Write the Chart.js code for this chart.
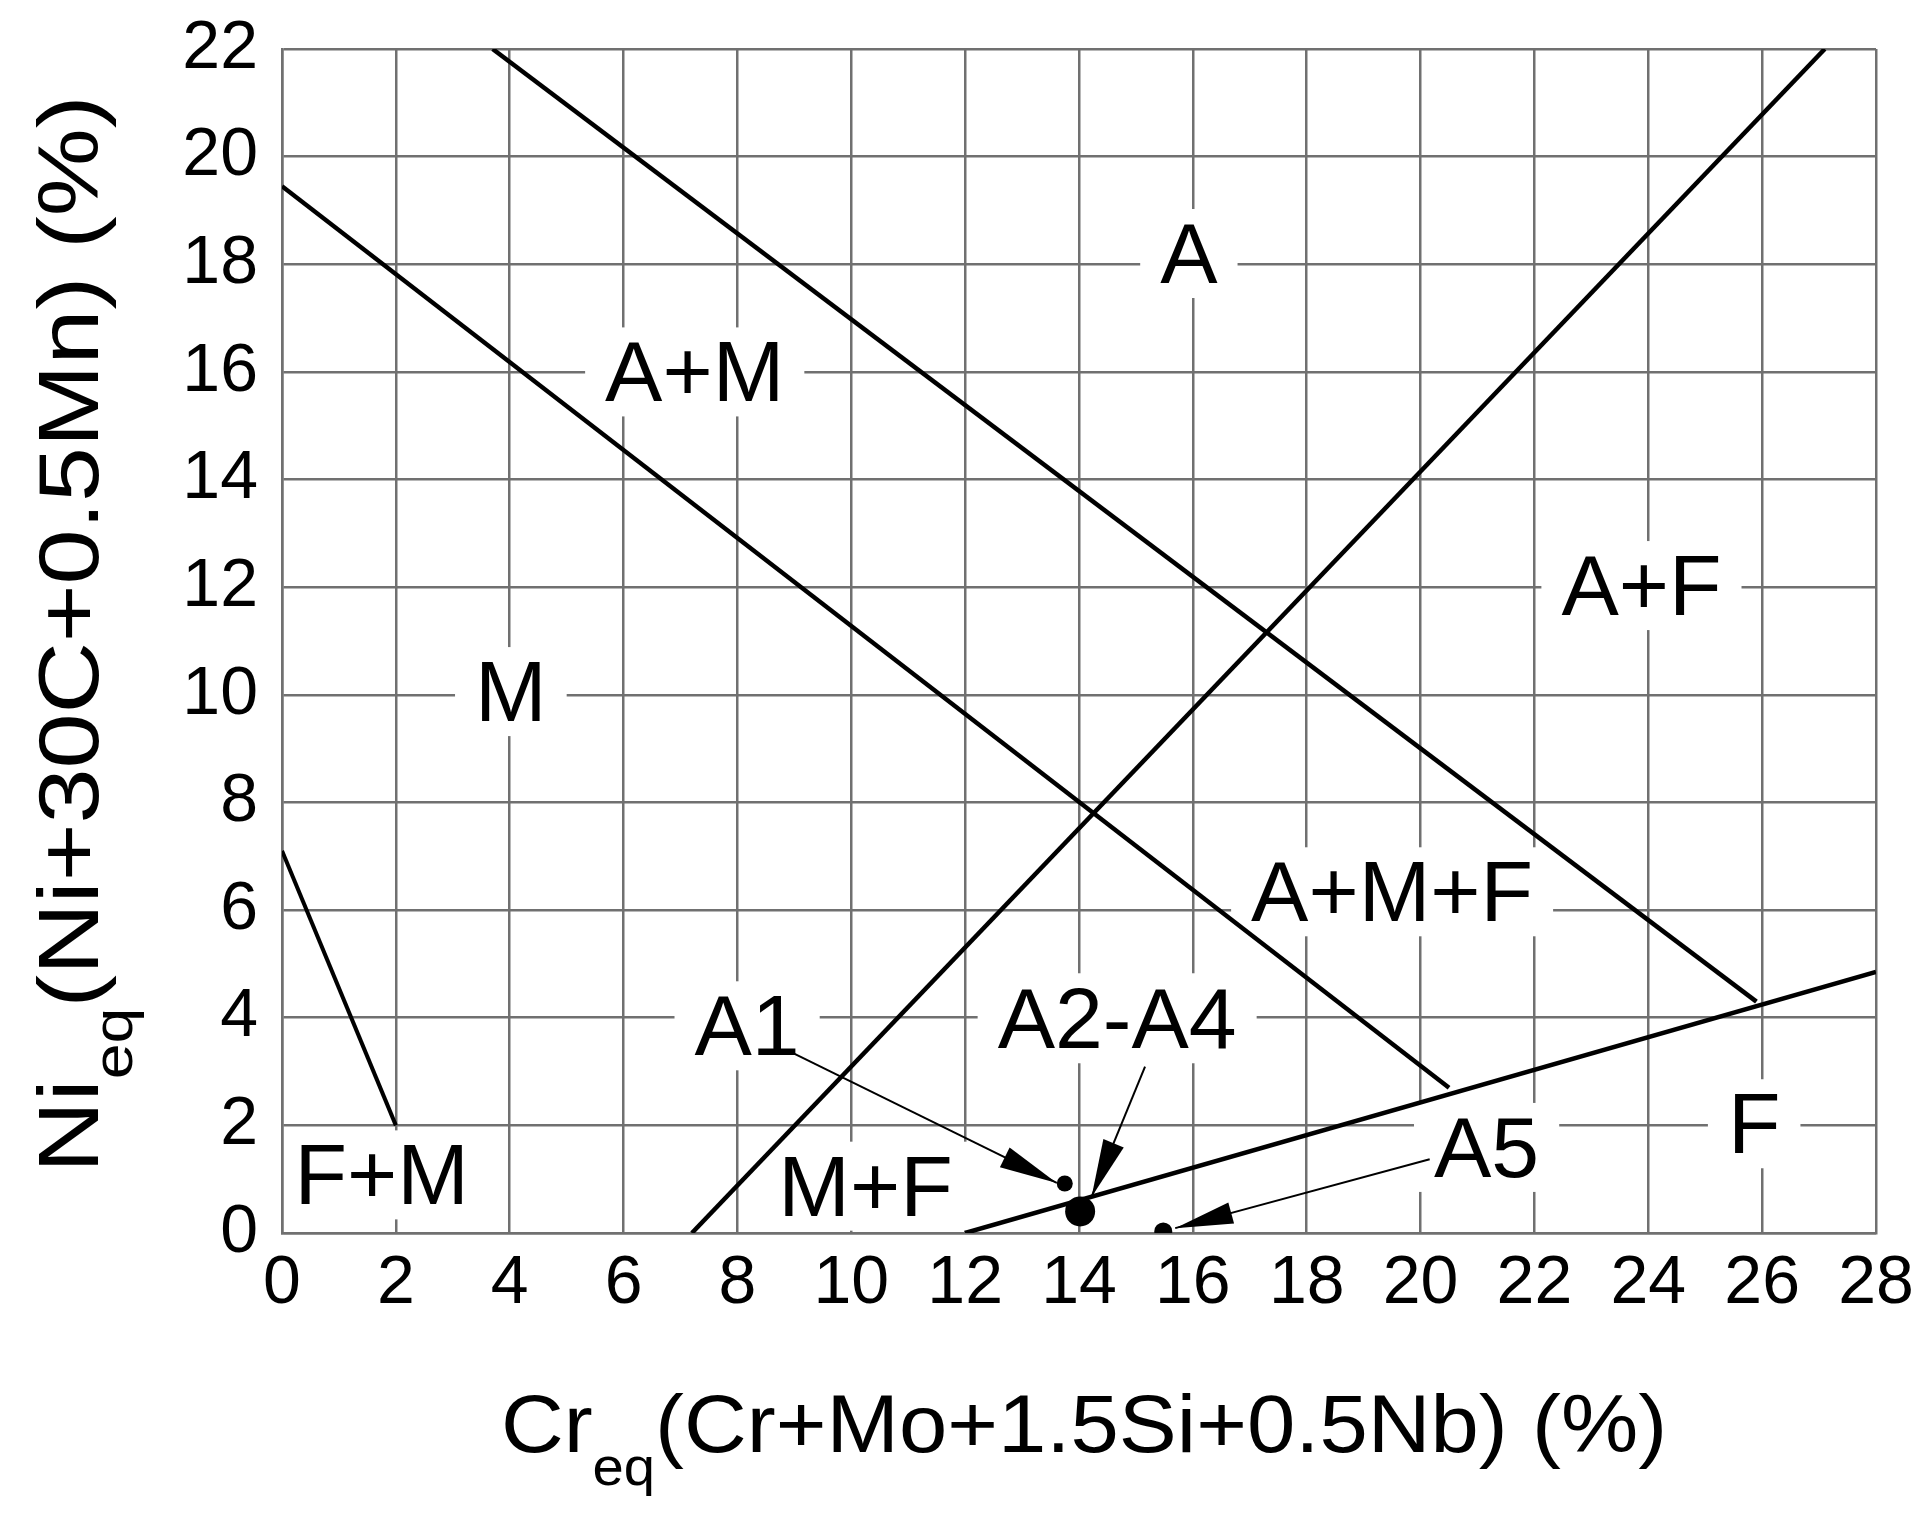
<!DOCTYPE html>
<html>
<head>
<meta charset="utf-8">
<script src="https://cdn.jsdelivr.net/npm/chart.js@4.4.1/dist/chart.umd.min.js"></script>
<style>
  html, body { margin: 0; padding: 0; background: #fff; }
  canvas { display: block; }
</style>
</head>
<body>
<canvas id="myChart" width="1931" height="1528"></canvas>
<script>
// Ejes
const xTicks = [0, 2, 4, 6, 8, 10, 12, 14, 16, 18, 20, 22, 24, 26, 28];
const yTicks = [0, 2, 4, 6, 8, 10, 12, 14, 16, 18, 20, 22];

// Líneas del diagrama (extremos)
const aLineX = [3.7, 25.9];    const aLineY = [22.0, 4.3];   // límite A / A+M
const mLineX = [0, 20.5];      const mLineY = [19.45, 2.7];  // límite A+M / M
const fLineX = [7.2, 27.1];    const fLineY = [0, 22.0];     // límite ferrita
const fBoundX = [12.0, 28.0];  const fBoundY = [0, 4.85];    // límite F
const fmLineX = [0, 2.0];      const fmLineY = [7.1, 2.0];   // límite F+M

// Muestras
const sampleNames = ["A1", "A2-A4", "A5"];
const sampleX = [13.75, 14.02, 15.48];
const sampleY = [0.92, 0.40, 0.03];

// Flechas (desde la etiqueta hasta la muestra)
const arrowFromX = [8.96, 15.16, 20.16];
const arrowFromY = [3.35, 3.09, 1.37];
const arrowToX = [13.61, 14.22, 15.69];
const arrowToY = [0.93, 0.67, 0.09];

// Etiquetas de regiones
const regionNames = ["A", "A+M", "A+F", "M", "A+M+F", "M+F", "F+M", "F", "A1", "A2-A4", "A5"];
const regionX = [15.93, 7.25, 23.88, 4.02, 19.5, 10.25, 1.75, 25.86, 8.17, 14.67, 21.16];
const regionY = [18.2, 16.0, 12.03, 10.06, 6.34, 0.87, 1.08, 2.03, 3.85, 3.99, 1.59];

const FONT = "'Liberation Sans', Arial, sans-serif";

function toPoints(xs, ys) {
    return xs.map((x, i) => ({x: x, y: ys[i]}));
}

function lineDataset(xs, ys, width) {
    return {
        data: toPoints(xs, ys),
        showLine: true,
        borderColor: "#000",
        borderWidth: width,
        pointRadius: 0,
        fill: false
    };
}

const datasets = [
    lineDataset(aLineX, aLineY, 4.5),
    lineDataset(mLineX, mLineY, 4.5),
    lineDataset(fLineX, fLineY, 4.5),
    lineDataset(fBoundX, fBoundY, 4.5),
    lineDataset(fmLineX, fmLineY, 4)
];

// Ejes de las flechas
for (let i = 0; i < arrowFromX.length; i++) {
    datasets.push(lineDataset([arrowFromX[i], arrowToX[i]], [arrowFromY[i], arrowToY[i]], 2));
}

// Puntos de las muestras
datasets.push({
    data: toPoints(sampleX, sampleY),
    showLine: false,
    pointRadius: [8, 15, 9],
    pointBackgroundColor: "#000",
    pointBorderColor: "#000",
    pointBorderWidth: 0
});

// Cajas blancas y texto de las regiones
const regionLabels = {
    id: "regionLabels",
    beforeDatasetsDraw(chart) {
        const {ctx, chartArea, scales} = chart;
        ctx.save();
        ctx.beginPath();
        ctx.rect(chartArea.left + 2, chartArea.top + 2, chartArea.width - 4, chartArea.height - 4);
        ctx.clip();
        ctx.font = "86px " + FONT;
        regionNames.forEach((name, i) => {
            const cx = scales.x.getPixelForValue(regionX[i]);
            const cy = scales.y.getPixelForValue(regionY[i]);
            const m = ctx.measureText(name);
            const cap = m.actualBoundingBoxAscent;
            ctx.fillStyle = "#fff";
            ctx.fillRect(cx - m.width / 2 - 20, cy - cap / 2 - 15, m.width + 40, cap + 30);
        });
        ctx.restore();
        ctx.save();
        ctx.font = "86px " + FONT;
        ctx.fillStyle = "#000";
        ctx.textAlign = "center";
        ctx.textBaseline = "alphabetic";
        regionNames.forEach((name, i) => {
            const cx = scales.x.getPixelForValue(regionX[i]);
            const cy = scales.y.getPixelForValue(regionY[i]);
            const cap = ctx.measureText(name).actualBoundingBoxAscent;
            ctx.fillText(name, cx, cy + cap / 2);
        });
        ctx.restore();
    }
};

// Puntas de flecha
const arrowHeads = {
    id: "arrowHeads",
    afterDatasetsDraw(chart) {
        const {ctx, scales} = chart;
        ctx.save();
        ctx.fillStyle = "#000";
        for (let i = 0; i < arrowFromX.length; i++) {
            const x0 = scales.x.getPixelForValue(arrowFromX[i]);
            const y0 = scales.y.getPixelForValue(arrowFromY[i]);
            const x1 = scales.x.getPixelForValue(arrowToX[i]);
            const y1 = scales.y.getPixelForValue(arrowToY[i]);
            const ang = Math.atan2(y1 - y0, x1 - x0);
            const len = 58, half = 11;
            const bx = x1 - len * Math.cos(ang), by = y1 - len * Math.sin(ang);
            ctx.beginPath();
            ctx.moveTo(x1, y1);
            ctx.lineTo(bx + half * Math.sin(ang), by - half * Math.cos(ang));
            ctx.lineTo(bx - half * Math.sin(ang), by + half * Math.cos(ang));
            ctx.closePath();
            ctx.fill();
        }
        ctx.restore();
    }
};

// Títulos de ejes con subíndice
function drawSubTitle(ctx, size, main, sub, rest) {
    const subSize = Math.round(size * 0.65);
    ctx.font = size + "px " + FONT;
    const w1 = ctx.measureText(main).width;
    const w3 = ctx.measureText(rest).width;
    ctx.font = subSize + "px " + FONT;
    const w2 = ctx.measureText(sub).width;
    let x = -(w1 + w2 + w3) / 2;
    ctx.textAlign = "left";
    ctx.textBaseline = "alphabetic";
    ctx.font = size + "px " + FONT;
    ctx.fillText(main, x, 0);
    x += w1;
    ctx.font = subSize + "px " + FONT;
    ctx.fillText(sub, x, size * 0.4);
    x += w2;
    ctx.font = size + "px " + FONT;
    ctx.fillText(rest, x, 0);
}

const axisTitles = {
    id: "axisTitles",
    afterDraw(chart) {
        const {ctx} = chart;
        ctx.save();
        ctx.fillStyle = "#000";
        ctx.translate(1084, 1452);
        ctx.scale(1.06, 1);
        drawSubTitle(ctx, 82, "Cr", "eq", "(Cr+Mo+1.5Si+0.5Nb) (%)");
        ctx.restore();
        ctx.save();
        ctx.fillStyle = "#000";
        ctx.translate(98, 634);
        ctx.rotate(-Math.PI / 2);
        ctx.scale(1.15, 1);
        drawSubTitle(ctx, 86, "Ni", "eq", "(Ni+30C+0.5Mn) (%)");
        ctx.restore();
    }
};

const ctx = document.getElementById("myChart").getContext("2d");
const myChart = new Chart(ctx, {
    type: "scatter",
    data: {datasets: datasets},
    options: {
        responsive: false,
        animation: false,
        layout: {padding: {left: 0, top: 49, right: 55, bottom: 0}},
        plugins: {legend: {display: false}, tooltip: {enabled: false}},
        scales: {
            x: {
                type: "linear",
                min: xTicks[0],
                max: xTicks[xTicks.length - 1],
                afterFit: s => { s.height = 295; s.paddingLeft = 0; s.paddingRight = 0; },
                afterBuildTicks: s => { s.ticks = xTicks.map(v => ({value: v})); },
                grid: {color: "#707070", lineWidth: 2.5, drawTicks: false},
                border: {color: "#707070", width: 2.5},
                ticks: {color: "#000", font: {family: FONT, size: 68}, padding: 10, maxRotation: 0}
            },
            y: {
                type: "linear",
                min: yTicks[0],
                max: yTicks[yTicks.length - 1],
                afterFit: s => { s.width = 282; s.paddingTop = 0; s.paddingBottom = 0; },
                afterBuildTicks: s => { s.ticks = yTicks.map(v => ({value: v})); },
                grid: {color: "#707070", lineWidth: 2.5, drawTicks: false},
                border: {color: "#707070", width: 2.5},
                ticks: {color: "#000", font: {family: FONT, size: 68}, padding: 24}
            }
        }
    },
    plugins: [regionLabels, arrowHeads, axisTitles]
});
</script>
</body>
</html>
